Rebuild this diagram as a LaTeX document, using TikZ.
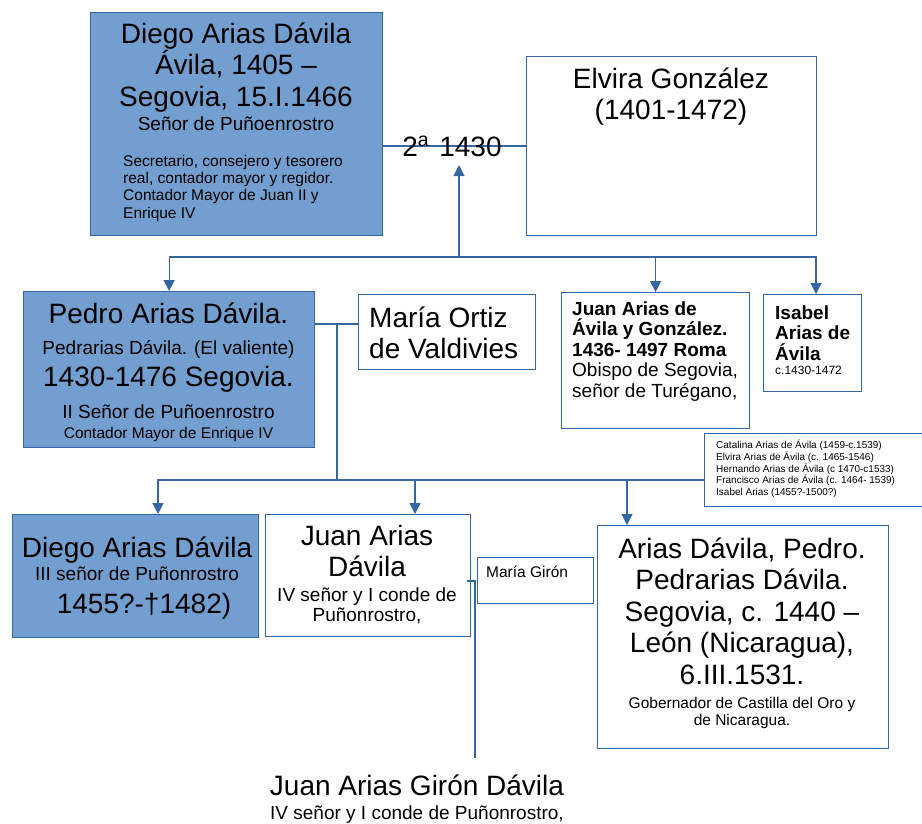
\documentclass[tikz,border=0pt]{standalone}
\usepackage{fontspec}
\setmainfont{Liberation Sans}
\usetikzlibrary{arrows.meta}
\definecolor{azul}{HTML}{729FCF}
\definecolor{linea}{HTML}{3465A4}
\newcommand{\grande}{\fontsize{28}{31.5}\selectfont}
\newcommand{\mediana}{\fontsize{19}{20.5}\selectfont}
\newcommand{\chica}{\fontsize{15.5}{17.2}\selectfont}
\newcommand{\diminuta}{\fontsize{12}{14}\selectfont}
\newcommand{\mini}{\fontsize{10}{11.75}\selectfont}

\begin{document}
\begin{tikzpicture}[x=1pt,y=-1pt,
  caja/.style={draw=linea, line width=1.2pt, inner sep=0pt, anchor=north west},
  cajaazul/.style={caja, fill=azul},
  enlace/.style={draw=linea, line width=1.2pt},
  flecha/.style={enlace, -{Triangle[width=11pt,length=11pt]}},
  texto/.style={anchor=base, inner sep=0pt, align=center},
  textoizq/.style={anchor=base west, inner sep=0pt, align=left}]
  \useasboundingbox (0,0) rectangle (922,823);
  % primera generacion (texto: base = ultima linea)
  \node[cajaazul, minimum width=292pt, minimum height=223pt] (diego) at (90,12) {};
  \node[caja, minimum width=290pt, minimum height=179pt] (elvira) at (526,56) {};
  \node[texto, font=\grande] (diegonom) at (236,106) {Diego Arias Dávila\\Ávila, 1405 –\\Segovia, 15.I.1466};
  \node[texto, font=\mediana] (diegotit) at (236,130) {Señor de Puñoenrostro};
  \node[textoizq, font=\chica] (diegocar) at (123,218) {Secretario, consejero y tesorero\\real, contador mayor y regidor.\\Contador Mayor de Juan II y\\Enrique IV};
  \node[texto, font=\grande] (elviranom) at (671,119.5) {Elvira González\\(1401-1472)};
  \coordinate (boda) at (459,146);
  \coordinate (bodapie) at (459,165);
  \coordinate (bus1) at (459,257);
  \draw[enlace] (diego.east |- boda) -- (elvira.west |- boda);
  \node[texto, font=\grande] (fecha) at (452,156) {2\textsuperscript{a}\hspace{10pt}1430};
  % hijos
  \node[cajaazul, minimum width=291pt, minimum height=156pt] (pedro) at (23,291) {};
  \node[caja, minimum width=177pt, minimum height=75pt] (mortiz) at (358,294) {};
  \node[caja, minimum width=188pt, minimum height=136pt] (juanobispo) at (561,292) {};
  \node[caja, minimum width=98pt, minimum height=97pt] (isabel) at (763,294) {};
  \draw[flecha] (bus1) -- (bodapie);
  \draw[flecha] (bus1) -| (pedro.north);
  \draw[flecha] (bus1) -| (juanobispo.north);
  \draw[flecha] (bus1) -| ([xshift=53pt]isabel.north west);
  \node[texto, font=\grande] (pedronom) at (168.5,323) {Pedro Arias Dávila.};
  \node[texto, font=\mediana] (pedroapodo) at (168.5,354) {Pedrarias Dávila. (El valiente)};
  \node[texto, font=\grande] (pedrofechas) at (168.5,386) {1430-1476 Segovia.};
  \node[texto, font=\mediana] (pedrotit) at (168.5,418) {II Señor de Puñoenrostro};
  \node[texto, font=\chica] (pedrocar) at (168.5,438.5) {Contador Mayor de Enrique IV};
  \node[textoizq, font=\grande] (mortiznom) at (369,358.5) {María Ortiz\\de Valdivies};
  \node[textoizq, font=\mediana] (juanobisponom) at (572,397) {\textbf{Juan Arias de}\\\textbf{Ávila y González.}\\\textbf{1436- 1497 Roma}\\Obispo de Segovia,\\señor de Turégano,};
  \node[textoizq, font=\mediana] (isabelnom) at (775,360) {\textbf{Isabel}\\\textbf{Arias de}\\\textbf{Ávila}};
  \node[textoizq, font=\diminuta] (isabelfechas) at (775,374) {c.1430-1472};
  \node[caja, minimum width=218pt, minimum height=73pt] (lista) at (704,433) {};
  \node[textoizq, font=\mini] (listanom) at (716,495.5) {Catalina Arias de Ávila (1459-c.1539)\\Elvira Arias de Ávila (c. 1465-1546)\\Hernando Arias de Ávila (c 1470-c1533)\\Francisco Arias de Ávila (c. 1464- 1539)\\Isabel Arias (1455?-1500?)};
  % nietos
  \coordinate (union2) at (337,324);
  \coordinate (bus2) at (337,480);
  \draw[enlace] (pedro.east |- union2) -- (mortiz.west |- union2);
  \draw[enlace] (union2) -- (bus2);
  \node[cajaazul, minimum width=246pt, minimum height=123pt] (diego3) at (12,514) {};
  \node[caja, minimum width=205pt, minimum height=122pt] (juanad) at (265,514) {};
  \node[caja, minimum width=116pt, minimum height=46pt] (mgiron) at (477,557) {};
  \node[caja, minimum width=291pt, minimum height=223pt] (ariasp) at (597,525) {};
  \draw[enlace] ([xshift=146pt]diego3.north west |- bus2) -- (lista.west |- bus2);
  \draw[flecha] (bus2) -| ([xshift=146pt]diego3.north west);
  \draw[flecha] (bus2) -| ([xshift=150pt]juanad.north west);
  \draw[flecha] (bus2) -| ([xshift=30pt]ariasp.north west);
  \node[texto, font=\grande] (diego3nom) at (137,557) {Diego Arias Dávila};
  \node[texto, font=\mediana] (diego3tit) at (137,580) {III señor de Puñonrostro};
  \node[texto, font=\grande] (diego3fechas) at (144,613) {1455?-†1482)};
  \node[texto, font=\grande] (juanadnom) at (367,576.5) {Juan Arias\\Dávila};
  \node[texto, font=\mediana] (juanadtit) at (367,621.5) {IV señor y I conde de\\Puñonrostro,};
  \node[textoizq, font=\chica] (mgironnom) at (486,577.5) {María Girón};
  \node[texto, font=\grande] (ariaspnom) at (742,684) {Arias Dávila, Pedro.\\Pedrarias Dávila.\\Segovia, c. 1440 –\\León (Nicaragua),\\6.III.1531.};
  \node[texto, font=\chica] (ariaspcar) at (742,725.5) {Gobernador de Castilla del Oro y\\de Nicaragua.};
  % bisnieto
  \coordinate (union3) at (475,581);
  \coordinate (bus3) at (475,758);
  \draw[enlace] ([xshift=-4pt]juanad.east |- union3) -- (union3) -- (bus3);
  \node[texto, font=\grande] (juanagnom) at (417,795) {Juan Arias Girón Dávila};
  \node[texto, font=\mediana] (juanagtit) at (417,819) {IV señor y I conde de Puñonrostro,};
\end{tikzpicture}
\end{document}
